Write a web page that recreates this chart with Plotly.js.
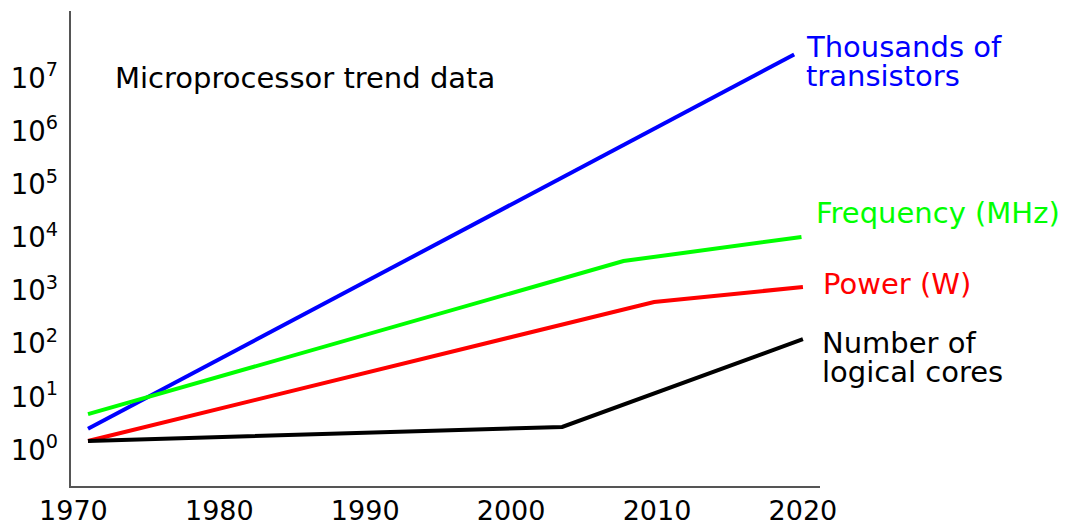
<!DOCTYPE html>
<html>
<head>
<meta charset="utf-8">
<script src="https://cdn.plot.ly/plotly-3.0.1.min.js"></script>
<style>html,body{margin:0;padding:0;background:#fff;}#chart{width:1066px;height:524px;}</style>
</head>
<body>
<div id="chart"></div>
<script>
// ---- data ----
const transistorYears = [1971, 2019.4];
const transistorValues = [1.7, 1.9e7];          // thousands of transistors
const frequencyYears = [1971, 2007.7, 2019.9];
const frequencyValues = [3.2, 2450, 6950];      // MHz
const powerYears = [1971, 2009.8, 2020];
const powerValues = [1, 415, 795];              // W
const coresYears = [1971, 2003.5, 2020];
const coresValues = [1, 1.84, 83];              // logical cores

const xTickYears = [1970, 1980, 1990, 2000, 2010, 2020];
const xTickLabels = ['1970', '1980', '1990', '2000', '2010', '2020'];
const yTickValues = [1, 10, 100, 1e3, 1e4, 1e5, 1e6, 1e7];
const yTickLabels = ['10<sup>0</sup>', '10<sup>1</sup>', '10<sup>2</sup>', '10<sup>3</sup>',
                     '10<sup>4</sup>', '10<sup>5</sup>', '10<sup>6</sup>', '10<sup>7</sup>'];

const seriesNames = ['Thousands of transistors', 'Frequency (MHz)', 'Power (W)', 'Number of logical cores'];
const seriesColors = ['#0000ff', '#00ff00', '#ff0000', '#000000'];
const chartTitle = 'Microprocessor trend data';

// ---- layout helpers ----
const W = 1066, H = 524;
const M = {l: 71, r: 246, t: 11, b: 38};
const pw = W - M.l - M.r, ph = H - M.t - M.b;
const px = x => (x - M.l) / pw;
const py = y => (H - M.b - y) / ph;

const FONT = 'DejaVu Sans, Liberation Sans, sans-serif';

const xs = [transistorYears, frequencyYears, powerYears, coresYears];
const ys = [transistorValues, frequencyValues, powerValues, coresValues];
const traces = xs.map((x, i) => ({
  type: 'scatter', mode: 'lines', x: x, y: ys[i], name: seriesNames[i],
  line: {color: seriesColors[i], width: 4}, hoverinfo: 'skip'
}));

function label(text, x, y, color) {
  return {text: text, xref: 'paper', yref: 'paper', x: px(x), y: py(y),
          xanchor: 'left', yanchor: 'middle', showarrow: false,
          font: {family: FONT, size: 29, color: color}};
}

const annotations = [
  label(chartTitle, 113, 78, '#000000'),
  label('Thousands of', 804, 47, seriesColors[0]),
  label('transistors', 804, 76, seriesColors[0]),
  label('Frequency (MHz)', 814, 213, seriesColors[1]),
  label('Power (W)', 821, 284, seriesColors[2]),
  label('Number of', 820, 343, seriesColors[3]),
  label('logical cores', 820, 372, seriesColors[3])
];

const layout = {
  width: W, height: H,
  margin: M,
  paper_bgcolor: '#ffffff', plot_bgcolor: '#ffffff',
  showlegend: false,
  font: {family: FONT, color: '#000'},
  xaxis: {
    range: [1969.835, 2021.17], showgrid: false, zeroline: false,
    showline: true, linecolor: '#555555', linewidth: 1.6,
    ticks: '', tickvals: xTickYears, ticktext: xTickLabels,
    tickfont: {family: FONT, size: 27, color: '#000'},
    ticklabelstandoff: 0
  },
  yaxis: {
    type: 'log', range: [-0.847, 8.098], showgrid: false, zeroline: false,
    showline: true, linecolor: '#555555', linewidth: 1.6,
    ticks: '', tickvals: yTickValues, ticktext: yTickLabels,
    tickfont: {family: FONT, size: 27.5, color: '#000'},
    ticklabelstandoff: 6, ticklabelshift: 9
  },
  annotations: annotations
};

Plotly.newPlot('chart', traces, layout, {staticPlot: true, displayModeBar: false});
</script>
</body>
</html>
